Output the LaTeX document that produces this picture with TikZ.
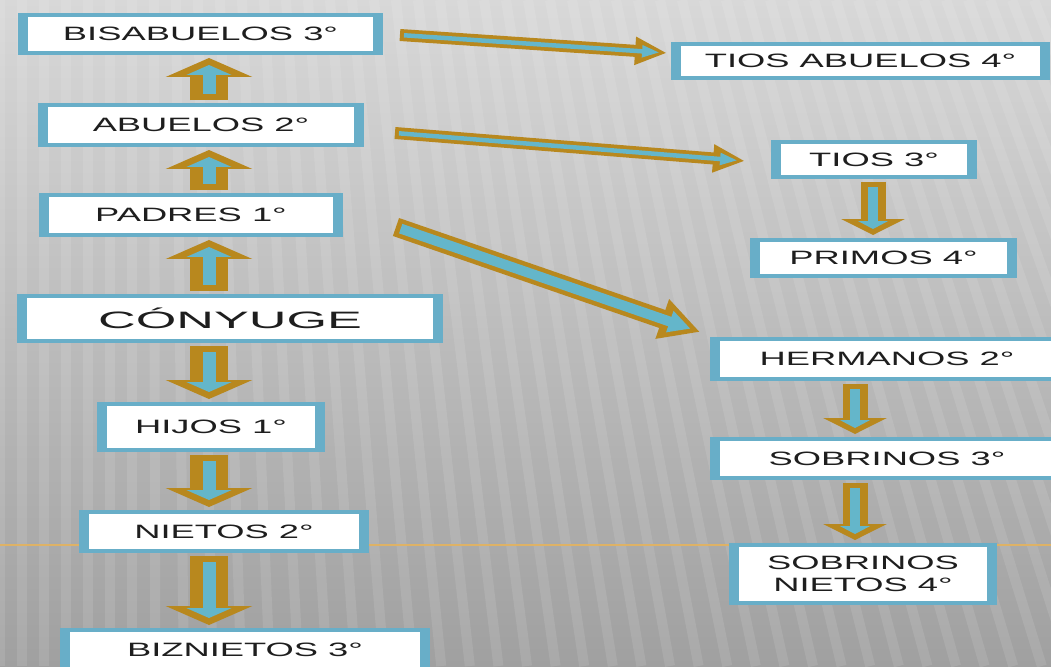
\documentclass[tikz,border=0pt]{standalone}
\usepackage{fontspec}
\newfontfamily\boxfont[FakeStretch=1.88]{Liberation Sans}
\newfontfamily\bigfont[FakeStretch=2.2]{Liberation Sans}
\usetikzlibrary{arrows.meta}
\definecolor{boxblue}{RGB}{104,174,200}
\definecolor{arrowgold}{RGB}{184,136,30}
\definecolor{arrowblue}{RGB}{100,182,202}
\definecolor{guideline}{RGB}{222,178,102}
\definecolor{boxtext}{RGB}{30,30,30}

\begin{document}
\begin{tikzpicture}[x=0.02cm, y=-0.02cm,
  box/.style={draw=boxblue, line width=0.08cm, fill=white, inner sep=0pt,
    text=boxtext, font=\boxfont\fontsize{11}{12.5}\selectfont, align=center,
    path picture={
      \fill[boxblue] (path picture bounding box.north west) rectangle ([xshift=0.16cm]path picture bounding box.south west);
      \fill[boxblue] (path picture bounding box.north east) rectangle ([xshift=-0.16cm]path picture bounding box.south east);}},
  vgold/.style={draw=arrowgold, line width=0.76cm, -{Triangle[width=1.72cm,length=0.38cm]}, shorten <=0.06cm, shorten >=0.06cm},
  vblue/.style={draw=arrowblue, line width=0.26cm, -{Triangle[width=0.9cm,length=0.2cm]}, shorten <=0.18cm, shorten >=0.2cm},
  rgold/.style={draw=arrowgold, line width=0.5cm, -{Triangle[width=1.26cm,length=0.32cm]}, shorten <=0.06cm, shorten >=0.06cm},
  rblue/.style={draw=arrowblue, line width=0.2cm, -{Triangle[width=0.6cm,length=0.16cm]}, shorten <=0.16cm, shorten >=0.18cm},
  dgold/.style={draw=arrowgold, line width=0.24cm, -{Triangle[width=0.52cm,length=0.64cm]}},
  dblue/.style={draw=arrowblue, line width=0.09cm, -{Triangle[width=0.22cm,length=0.36cm]}, shorten <=0.08cm, shorten >=0.14cm},
  bgold/.style={draw=arrowgold, line width=0.38cm, -{Triangle[width=0.78cm,length=0.8cm]}},
  bblue/.style={draw=arrowblue, line width=0.2cm, -{Triangle[width=0.42cm,length=0.44cm]}, shorten <=0.1cm, shorten >=0.2cm},
  stripe/.style={white, opacity=0.1, line width=0.2cm}]

\useasboundingbox (0,0) rectangle (1051,666);
\shade[top color={rgb,255:red,216;green,216;blue,216}, middle color={rgb,255:red,194;green,194;blue,194}, bottom color={rgb,255:red,160;green,160;blue,160}] (0,0) rectangle (1051,666);
\begin{scope}
\clip (0,0) rectangle (1051,666);
\foreach \x in {0,22,...,1300}
  \draw[stripe] (\x,0) -- ({\x+0.3*max(\x-150,0)},666);
\end{scope}
\draw[guideline, line width=0.03cm] (0,545) -- (1051,545);

\node[box, minimum width=7.22cm, minimum height=0.76cm] (bis) at (200.5,34) {BISABUELOS 3°};
\node[box, minimum width=6.44cm, minimum height=0.80cm] (abu) at (201,125) {ABUELOS 2°};
\node[box, minimum width=6.00cm, minimum height=0.80cm] (pad) at (191,215) {PADRES 1°};
\node[box, minimum width=8.44cm, minimum height=0.90cm, font=\bigfont\fontsize{13.5}{15}\selectfont] (con) at (230,318.5) {CÓNYUGE};
\node[box, minimum width=4.48cm, minimum height=0.92cm] (hij) at (211,427) {HIJOS 1°};
\node[box, minimum width=5.72cm, minimum height=0.78cm] (nie) at (224,531.5) {NIETOS 2°};
\node[box, minimum width=7.32cm, minimum height=0.80cm] (biz) at (245,650) {BIZNIETOS 3°};
\node[box, minimum width=7.50cm, minimum height=0.68cm] (tab) at (860.5,61) {TIOS ABUELOS 4°};
\node[box, minimum width=4.04cm, minimum height=0.70cm] (tio) at (874,159.5) {TIOS 3°};
\node[box, minimum width=5.26cm, minimum height=0.72cm] (pri) at (883.5,258) {PRIMOS 4°};
\node[box, minimum width=7.00cm, minimum height=0.80cm] (her) at (887,359) {HERMANOS 2°};
\node[box, minimum width=7.00cm, minimum height=0.78cm] (sob) at (887,458.5) {SOBRINOS 3°};
\node[box, minimum width=5.28cm, minimum height=1.16cm] (sni) at (863,574) {SOBRINOS\\NIETOS 4°};

\coordinate (lx) at (209,0);
\coordinate (rx) at (873,0);
\coordinate (sx) at (855,0);

\foreach \a/\b in {abu/bis,pad/abu,con/pad} {
  \draw[vgold] (\a.north -| lx) -- (\b.south -| lx);
  \draw[vblue] (\a.north -| lx) -- (\b.south -| lx);
}
\foreach \a/\b in {con/hij,hij/nie,nie/biz} {
  \draw[vgold] (\a.south -| lx) -- (\b.north -| lx);
  \draw[vblue] (\a.south -| lx) -- (\b.north -| lx);
}
\draw[rgold] (tio.south -| rx) -- (pri.north -| rx);
\draw[rblue] (tio.south -| rx) -- (pri.north -| rx);
\foreach \a/\b in {her/sob,sob/sni} {
  \draw[rgold] (\a.south -| sx) -- (\b.north -| sx);
  \draw[rblue] (\a.south -| sx) -- (\b.north -| sx);
}

\draw[dgold] ([xshift=0.34cm,yshift=-0.02cm]bis.east) -- ([xshift=-0.08cm,yshift=0.16cm]tab.west);
\draw[dblue] ([xshift=0.34cm,yshift=-0.02cm]bis.east) -- ([xshift=-0.08cm,yshift=0.16cm]tab.west);
\draw[dgold] ([xshift=0.62cm,yshift=-0.16cm]abu.east) -- ([xshift=-0.52cm,yshift=-0.03cm]tio.west);
\draw[dblue] ([xshift=0.62cm,yshift=-0.16cm]abu.east) -- ([xshift=-0.52cm,yshift=-0.03cm]tio.west);
\draw[bgold] ([xshift=1.06cm,yshift=-0.24cm]pad.east) -- ([xshift=-0.2cm,yshift=0.54cm]her.west);
\draw[bblue] ([xshift=1.06cm,yshift=-0.24cm]pad.east) -- ([xshift=-0.2cm,yshift=0.54cm]her.west);
\end{tikzpicture}
\end{document}
